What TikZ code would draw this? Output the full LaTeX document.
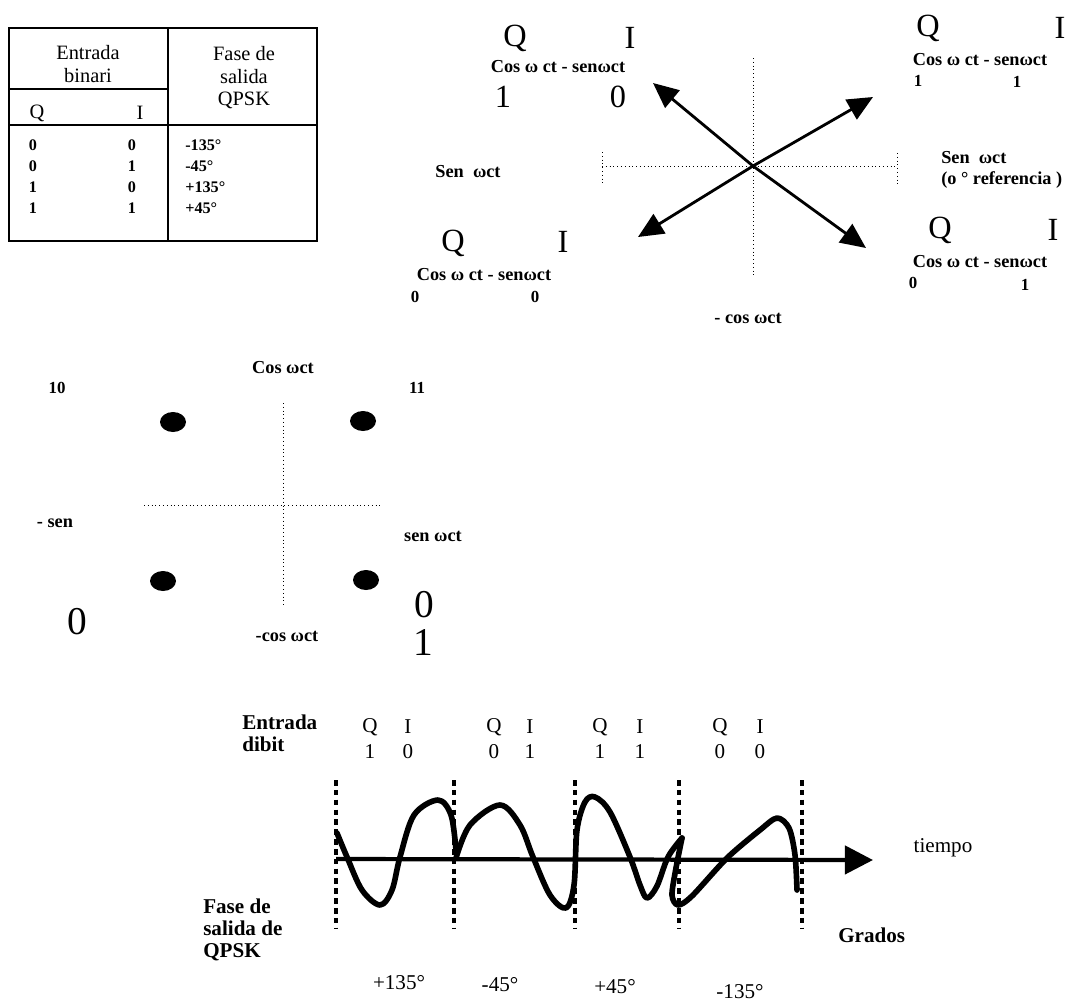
\documentclass[tikz,border=0pt]{standalone}
\usepackage{fontspec}
\setmainfont{Liberation Serif}
\usetikzlibrary{arrows.meta, positioning}

\begin{document}
\begin{tikzpicture}[
  x=0.025cm, y=-0.025cm,
  etiqueta/.style={inner sep=0pt, font=\fontsize{13}{15}\selectfont\bfseries},
  pequeno/.style={inner sep=0pt, font=\fontsize{12}{14}\selectfont\bfseries},
  grande/.style={inner sep=0pt, font=\fontsize{23}{26}\selectfont},
  enorme/.style={inner sep=0pt, font=\fontsize{28}{30}\selectfont},
  medio/.style={inner sep=0pt, font=\fontsize{15}{15.6}\selectfont},
  mediobf/.style={medio, font=\fontsize{15}{15.6}\selectfont\bfseries},
  cabecera/.style={inner sep=0pt, align=center, font=\fontsize{14.5}{16}\selectfont},
  celda/.style={inner sep=0pt, font=\fontsize{11.5}{13}\selectfont\bfseries},
  tabla/.style={draw=black, line width=1.6pt, line cap=rect},
  eje/.style={draw=black, line width=0.7pt, dotted},
  fasor/.style={draw=black, line width=2pt, -{Triangle[length=18pt, width=16pt]}},
  punto/.style={fill=black},
  separador/.style={draw=black, line width=3pt, dash pattern=on 4pt off 3pt},
  flechatiempo/.style={draw=black, line width=3pt, -{Triangle[length=20pt, width=20pt]}},
  onda/.style={draw=black, line width=4pt, line join=round, line cap=round}
]

% Il foglio: stesse proporzioni del riferimento (1 unita' = 1 pixel).
\useasboundingbox (0,0) rectangle (1083,1007);

% ---- tabla de verdad --------------------------------------------------
\draw[tabla] (9,28) rectangle (317,241);
\draw[tabla] (168,28) -- (168,241);
\draw[tabla] (9,125) -- (317,125);
\draw[tabla] (9,89) -- (168,89);
\node[cabecera] (entrada) at (88,64) {Entrada\\binari};
\node[cabecera] (fase) at (244,78) {Fase de\\salida\\QPSK};
\node[cabecera] (colq) at (37,113) {Q};
\node[cabecera] (coli) at (140,113) {I};
\foreach \q/\i/\f [count=\n] in {0/0/-135°, 0/1/-45°, 1/0/+135°, 1/1/+45°} {
  \pgfmathsetmacro{\y}{124+21*\n}
  \node[celda] (q\n) at (33,\y) {\q};
  \node[celda] (i\n) at (132,\y) {\i};
  \node[celda, anchor=west] (f\n) at (185,\y) {\f};
}

% ---- diagrama fasorial --------------------------------------------------
\coordinate (origen) at (753,166);
\coordinate (p10) at (653,83);
\coordinate (p00) at (638,237);
\coordinate (p11) at (873,97);
\coordinate (p01) at (866,248);

\draw[eje] (753,58) -- (753,277);
\draw[eje] (602,166) -- (897,166);
\draw[eje] (602,152) -- (602,183);
\draw[eje] (897,153) -- (897,185);
\foreach \p in {p10,p00,p11,p01} \draw[fasor] (origen) -- (\p);

% cuadrante 10
\node[grande]   (q10) at (515,38) {Q};
\node[grande]   (i10) at (630,38) {I};
\node[etiqueta] (c10) at (558,67) {Cos ω ct - senωct};
\node[grande]   (v10q) at (503,97) {1};
\node[grande]   (v10i) at (618,97) {0};
% cuadrante 00
\node[grande]   (q00) at (453,243) {Q};
\node[grande]   (i00) at (563,242) {I};
\node[etiqueta] (c00) at (484,275) {Cos ω ct - senωct};
\node[pequeno]  (v00q) at (415,297) {0};
\node[pequeno]  (v00i) at (535,297) {0};
% cuadrante 11
\node[grande]   (q11) at (928,28) {Q};
\node[grande]   (i11) at (1060,28) {I};
\node[etiqueta] (c11) at (980,60) {Cos ω ct - senωct};
\node[pequeno]  (v11q) at (918,81) {1};
\node[pequeno]  (v11i) at (1017,82) {1};
% cuadrante 01
\node[grande]   (q01) at (940,230) {Q};
\node[grande]   (i01) at (1053,230) {I};
\node[etiqueta] (c01) at (980,262) {Cos ω ct - senωct};
\node[pequeno]  (v01q) at (913,283) {0};
\node[pequeno]  (v01i) at (1025,285) {1};

\node[etiqueta] (senizq) at (468,172) {Sen \ ωct};
\node[etiqueta, align=left, anchor=west] (sender) at (941,170) {Sen \ ωct\\(o ° referencia )};
\node[etiqueta] (cosabajo) at (748,318) {- cos ωct};

% ---- constelacion --------------------------------------------------------
\draw[eje] (283,403) -- (283,605);
\draw[eje] (144,505) -- (382,505);
\fill[punto] (173,422) ellipse (13 and 10);
\fill[punto] (363,421) ellipse (13 and 10);
\fill[punto] (163,581) ellipse (13 and 10);
\fill[punto] (366,580) ellipse (13 and 10);

\node[etiqueta] (cosarr) at (283,368) {Cos ωct};
\node[pequeno]  (e10) at (57,388) {10};
\node[pequeno]  (e11) at (417,388) {11};
\node[etiqueta] (senmenos) at (55,523) {- sen};
\node[etiqueta] (senmas) at (433,536) {sen ωct};
\node[etiqueta] (cosmenos) at (287,636) {-cos ωct};
\node[enorme]   (e00) at (77,622) {0};
\node[enorme]   (e01a) at (424,605) {0};
\node[enorme]   (e01b) at (423,642) {1};

% ---- forma de onda QPSK ---------------------------------------------------
\node[mediobf, align=left, anchor=west] (dibit) at (242,733) {Entrada\\dibit};
\foreach \qx/\ix/\qv/\iv [count=\n] in {370/408/1/0, 494/530/0/1, 600/640/1/1, 720/760/0/0} {
  \node[medio] (dq\n) at (\qx,727) {Q};
  \node[medio] (di\n) at (\ix,727) {I};
  \node[medio] (vq\n) at (\qx,752) {\qv};
  \node[medio] (vi\n) at (\ix,752) {\iv};
}
\foreach \x in {336,454,575,679,802} \draw[separador] (\x,780) -- (\x,928);

\coordinate (t0) at (336,859);
\coordinate (t1) at (873,860);
\draw[flechatiempo] (t0) -- (t1);

\draw[onda] plot[smooth, tension=0.55] coordinates {
  (337,833) (347,857) (362,890) (380,905) (392,890) (400,857)
  (414,815) (438,800) (451,815) (456,850)};
\draw[onda] plot[smooth, tension=0.55] coordinates {
  (456,858) (470,825) (500,805) (520,825) (533,857) (550,895)
  (566,908) (574,885) (577,830) (585,802) (595,797) (610,812)
  (630,857) (640,885) (647,898) (657,886) (668,857) (682,838)};
\draw[onda] plot[smooth, tension=0.5] coordinates {
  (682,838) (676,868) (672,895) (678,905) (692,896) (727,858)
  (760,830) (777,818) (789,828) (795,855) (797,890)};

\node[mediobf, align=left, anchor=west] (salida) at (203,930) {Fase de\\salida de\\QPSK};
\node[medio] (tiempo) at (943,848) {tiempo};
\node[mediobf, anchor=west] (grados) at (838,935) {Grados};
\node[medio] (g1) at (399,983) {+135°};
\node[medio] (g2) at (500,985) {-45°};
\node[medio] (g3) at (615,987) {+45°};
\node[medio] (g4) at (740,992) {-135°};

\end{tikzpicture}
\end{document}
